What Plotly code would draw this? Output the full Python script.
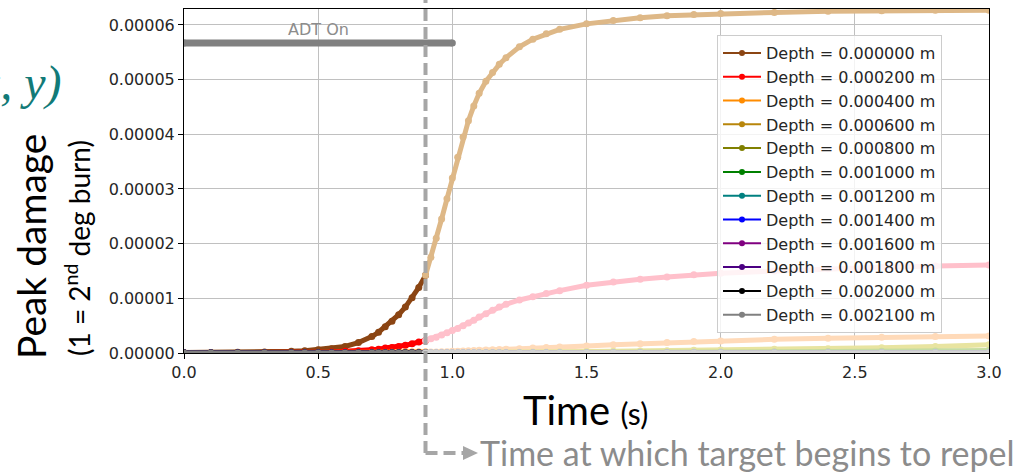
import plotly.graph_objects as go

# ---------------- data (damage values in units of 1e-5) ----------------
SCALE = 1e-5

depth_labels = [
    "Depth = 0.000000 m", "Depth = 0.000200 m", "Depth = 0.000400 m",
    "Depth = 0.000600 m", "Depth = 0.000800 m", "Depth = 0.001000 m",
    "Depth = 0.001200 m", "Depth = 0.001400 m", "Depth = 0.001600 m",
    "Depth = 0.001800 m", "Depth = 0.002000 m", "Depth = 0.002100 m",
]
colors_pre = ["#8B4513", "#FF0000", "#FF8C00", "#B8860B", "#808000", "#008000",
              "#008080", "#0000FF", "#800080", "#4B0082", "#000000", "#808080"]
colors_post = ["#DEB887", "#FFC0CB", "#FFDAB9", "#E8E4A0", "#C8DCA0", "#B8E0B8",
               "#B0E0E0", "#B0C8F0", "#DDB8DD", "#D0C0E0", "#B0B0B0", "#D3D3D3"]

# before the target begins to repel (t <= 0.9 s)
time_pre = [0.0, 0.1, 0.2, 0.3, 0.4, 0.45, 0.5, 0.55, 0.6, 0.65, 0.7, 0.725,
            0.75, 0.775, 0.8, 0.825, 0.85, 0.875, 0.9]
pre_d0000 = [0.01, 0.01, 0.015, 0.02, 0.03, 0.04, 0.06, 0.08, 0.12, 0.19, 0.30, 0.38,
             0.48, 0.58, 0.70, 0.84, 1.01, 1.20, 1.42]
pre_d0002 = [0.0, 0.0, 0.0, 0.0, 0.005, 0.007, 0.01, 0.02, 0.03, 0.04, 0.06, 0.07,
             0.09, 0.10, 0.12, 0.14, 0.17, 0.20, 0.23]
pre_d0004 = [0.0, 0.0, 0.0, 0.0, 0.0, 0.0, 0.0, 0.0, 0.005, 0.005, 0.01, 0.01,
             0.01, 0.015, 0.015, 0.02, 0.02, 0.02, 0.02]
pre_d0006 = [0.0, 0.0, 0.0, 0.0, 0.0, 0.0, 0.0, 0.0, 0.0, 0.0, 0.0, 0.0,
             0.0, 0.0, 0.005, 0.005, 0.005, 0.005, 0.005]
pre_d0008 = [0.0, 0.0, 0.0, 0.0, 0.0, 0.0, 0.0, 0.0, 0.0, 0.0, 0.0, 0.0,
             0.0, 0.0, 0.0, 0.0, 0.0, 0.0, 0.0]
pre_d0010 = [0.0, 0.0, 0.0, 0.0, 0.0, 0.0, 0.0, 0.0, 0.0, 0.0, 0.0, 0.0,
             0.0, 0.0, 0.0, 0.0, 0.0, 0.0, 0.0]
pre_d0012 = [0.0, 0.0, 0.0, 0.0, 0.0, 0.0, 0.0, 0.0, 0.0, 0.0, 0.0, 0.0,
             0.0, 0.0, 0.0, 0.0, 0.0, 0.0, 0.0]
pre_d0014 = [0.0, 0.0, 0.0, 0.0, 0.0, 0.0, 0.0, 0.0, 0.0, 0.0, 0.0, 0.0,
             0.0, 0.0, 0.0, 0.0, 0.0, 0.0, 0.0]
pre_d0016 = [0.0, 0.0, 0.0, 0.0, 0.0, 0.0, 0.0, 0.0, 0.0, 0.0, 0.0, 0.0,
             0.0, 0.0, 0.0, 0.0, 0.0, 0.0, 0.0]
pre_d0018 = [0.0, 0.0, 0.0, 0.0, 0.0, 0.0, 0.0, 0.0, 0.0, 0.0, 0.0, 0.0,
             0.0, 0.0, 0.0, 0.0, 0.0, 0.0, 0.0]
pre_d0020 = [0.0, 0.0, 0.0, 0.0, 0.0, 0.0, 0.0, 0.0, 0.0, 0.0, 0.0, 0.0,
             0.0, 0.0, 0.0, 0.0, 0.0, 0.0, 0.0]
pre_d0021 = [0.0, 0.0, 0.0, 0.0, 0.0, 0.0, 0.0, 0.0, 0.0, 0.0, 0.0, 0.0,
             0.0, 0.0, 0.0, 0.0, 0.0, 0.0, 0.0]

# after the target begins to repel (t >= 0.9 s)
time_post = [0.9, 0.92, 0.94, 0.96, 0.98, 1.0, 1.02, 1.04, 1.06, 1.08, 1.1, 1.125,
             1.15, 1.175, 1.2, 1.25, 1.3, 1.35, 1.4, 1.5, 1.6, 1.7, 1.8, 1.9,
             2.0, 2.2, 2.4, 2.6, 2.8, 3.0]
post_d0000 = [1.42, 1.75, 2.10, 2.45, 2.82, 3.20, 3.58, 3.95, 4.25, 4.52, 4.75, 4.97,
              5.13, 5.28, 5.40, 5.60, 5.74, 5.84, 5.92, 6.02, 6.08, 6.13, 6.17, 6.19,
              6.21, 6.23, 6.25, 6.26, 6.27, 6.27]
post_d0002 = [0.23, 0.26, 0.29, 0.33, 0.37, 0.41, 0.45, 0.50, 0.55, 0.60, 0.66, 0.72,
              0.78, 0.84, 0.89, 0.97, 1.03, 1.09, 1.14, 1.24, 1.30, 1.35, 1.39, 1.43,
              1.46, 1.50, 1.54, 1.57, 1.59, 1.61]
post_d0004 = [0.02, 0.02, 0.02, 0.025, 0.025, 0.03, 0.03, 0.035, 0.04, 0.045, 0.05, 0.055,
              0.06, 0.065, 0.07, 0.08, 0.09, 0.10, 0.11, 0.13, 0.15, 0.17, 0.19, 0.21,
              0.22, 0.25, 0.27, 0.29, 0.30, 0.31]
post_d0006 = [0.005, 0.005, 0.005, 0.005, 0.005, 0.005, 0.005, 0.005, 0.005, 0.005, 0.01, 0.01,
              0.01, 0.01, 0.012, 0.015, 0.018, 0.02, 0.022, 0.027, 0.032, 0.037, 0.043, 0.05,
              0.056, 0.068, 0.08, 0.095, 0.12, 0.15]
post_d0008 = [0.0, 0.0, 0.0, 0.0, 0.0, 0.0, 0.0, 0.0, 0.0, 0.0, 0.0, 0.0,
              0.0, 0.0, 0.0, 0.005, 0.005, 0.005, 0.005, 0.008, 0.01, 0.012, 0.014, 0.016,
              0.018, 0.022, 0.027, 0.032, 0.037, 0.045]
post_d0010 = [0.0, 0.0, 0.0, 0.0, 0.0, 0.0, 0.0, 0.0, 0.0, 0.0, 0.0, 0.0,
              0.0, 0.0, 0.0, 0.0, 0.0, 0.0, 0.0, 0.0, 0.0, 0.0, 0.005, 0.005,
              0.005, 0.007, 0.009, 0.011, 0.013, 0.015]
post_d0012 = [0.0, 0.0, 0.0, 0.0, 0.0, 0.0, 0.0, 0.0, 0.0, 0.0, 0.0, 0.0,
              0.0, 0.0, 0.0, 0.0, 0.0, 0.0, 0.0, 0.0, 0.0, 0.0, 0.0, 0.0,
              0.0, 0.0, 0.0, 0.0, 0.005, 0.005]
post_d0014 = [0.0, 0.0, 0.0, 0.0, 0.0, 0.0, 0.0, 0.0, 0.0, 0.0, 0.0, 0.0,
              0.0, 0.0, 0.0, 0.0, 0.0, 0.0, 0.0, 0.0, 0.0, 0.0, 0.0, 0.0,
              0.0, 0.0, 0.0, 0.0, 0.0, 0.0]
post_d0016 = [0.0, 0.0, 0.0, 0.0, 0.0, 0.0, 0.0, 0.0, 0.0, 0.0, 0.0, 0.0,
              0.0, 0.0, 0.0, 0.0, 0.0, 0.0, 0.0, 0.0, 0.0, 0.0, 0.0, 0.0,
              0.0, 0.0, 0.0, 0.0, 0.0, 0.0]
post_d0018 = [0.0, 0.0, 0.0, 0.0, 0.0, 0.0, 0.0, 0.0, 0.0, 0.0, 0.0, 0.0,
              0.0, 0.0, 0.0, 0.0, 0.0, 0.0, 0.0, 0.0, 0.0, 0.0, 0.0, 0.0,
              0.0, 0.0, 0.0, 0.0, 0.0, 0.0]
post_d0020 = [0.0, 0.0, 0.0, 0.0, 0.0, 0.0, 0.0, 0.0, 0.0, 0.0, 0.0, 0.0,
              0.0, 0.0, 0.0, 0.0, 0.0, 0.0, 0.0, 0.0, 0.0, 0.0, 0.0, 0.0,
              0.0, 0.0, 0.0, 0.0, 0.0, 0.0]
post_d0021 = [0.0, 0.0, 0.0, 0.0, 0.0, 0.0, 0.0, 0.0, 0.0, 0.0, 0.0, 0.0,
              0.0, 0.0, 0.0, 0.0, 0.0, 0.0, 0.0, 0.0, 0.0, 0.0, 0.0, 0.0,
              0.0, 0.0, 0.0, 0.0, 0.0, 0.0]

pre_series = [pre_d0000, pre_d0002, pre_d0004, pre_d0006, pre_d0008, pre_d0010,
              pre_d0012, pre_d0014, pre_d0016, pre_d0018, pre_d0020, pre_d0021]
post_series = [post_d0000, post_d0002, post_d0004, post_d0006, post_d0008, post_d0010,
               post_d0012, post_d0014, post_d0016, post_d0018, post_d0020, post_d0021]

# ADT on indicator
adt_time = [0.0, 1.0]
adt_level = [5.67, 5.67]
repel_time = 0.9

x_ticks = [0.0, 0.5, 1.0, 1.5, 2.0, 2.5, 3.0]

# ---------------- figure ----------------
W, H = 1023, 472
ML, MR, MT, MB = 184, 34, 9, 119
PW, PH = W - ML - MR, H - MT - MB


def px2paper_x(px):
    return (px - ML) / PW


def px2paper_y(py):
    return (H - MB - py) / PH


fig = go.Figure()

# ADT bar
fig.add_trace(go.Scatter(
    x=adt_time, y=[v * SCALE for v in adt_level], mode="lines+markers",
    line=dict(color="#808080", width=7), marker=dict(size=7, color="#808080"),
    showlegend=False, hoverinfo="skip"))

for i, lab in enumerate(depth_labels):
    fig.add_trace(go.Scatter(
        x=time_pre, y=[v * SCALE for v in pre_series[i]], mode="lines+markers",
        line=dict(color=colors_pre[i], width=5), marker=dict(size=7, color=colors_pre[i]),
        showlegend=False))
    fig.add_trace(go.Scatter(
        x=time_post, y=[v * SCALE for v in post_series[i]], mode="lines+markers",
        line=dict(color=colors_post[i], width=5), marker=dict(size=7, color=colors_post[i]),
        showlegend=False))

# legend entries
for i, lab in enumerate(depth_labels):
    fig.add_trace(go.Scatter(
        x=[None], y=[None], mode="lines+markers", name=lab,
        line=dict(color=colors_pre[i], width=2), marker=dict(size=6, color=colors_pre[i])))

tick_font = dict(family="DejaVu Sans", size=16, color="#262626")
slide_font = "Lato"

fig.update_layout(
    width=W, height=H, margin=dict(l=ML, r=MR, t=MT, b=MB),
    paper_bgcolor="white", plot_bgcolor="white",
    showlegend=True,
    legend=dict(x=px2paper_x(717), y=px2paper_y(35), xanchor="left", yanchor="top",
                font=dict(family="DejaVu Sans", size=16, color="#262626"),
                itemwidth=38,
                bgcolor="rgba(255,255,255,0.8)", bordercolor="#cccccc", borderwidth=1),
    xaxis=dict(range=[0, 3], tickvals=x_ticks, tickformat=".1f", showgrid=True,
               gridcolor="#c0c0c0", gridwidth=1, zeroline=False, showline=True,
               linecolor="black", linewidth=1, mirror=True, ticks="outside",
               ticklen=5, tickcolor="black", tickfont=tick_font),
    yaxis=dict(range=[0, 6.292e-5], dtick=1e-5, tick0=0, tickformat=".5f", showgrid=True,
               gridcolor="#c0c0c0", gridwidth=1, zeroline=False, showline=True,
               linecolor="black", linewidth=1, mirror=True, ticks="outside",
               ticklen=5, tickcolor="black", tickfont=tick_font),
)

# ADT On label
fig.add_annotation(x=0.5, y=5.91e-5, xref="x", yref="y", text="ADT On", showarrow=False,
                   font=dict(family="DejaVu Sans", size=16, color="#8c8c8c"))

# repel marker: dashed vertical line + horizontal dashed leader + arrow head
ylow = px2paper_y(453)
fig.add_shape(type="line", xref="x", yref="paper", x0=repel_time, x1=repel_time,
              y0=ylow, y1=px2paper_y(-2), line=dict(color="#a6a6a6", width=4, dash="12px,6px"),
              layer="above")
x_arrow_start = (463 - ML) / PW * 3
x_arrow_tip = (478 - ML) / PW * 3
fig.add_shape(type="line", xref="x", yref="paper", x0=repel_time, x1=x_arrow_start,
              y0=ylow, y1=ylow, line=dict(color="#a6a6a6", width=4, dash="12px,6px"),
              layer="above")
fig.add_shape(type="path", xref="x", yref="paper",
              path=f"M {x_arrow_start},{px2paper_y(446)} L {x_arrow_start},{px2paper_y(460)} "
                   f"L {x_arrow_tip},{ylow} Z",
              fillcolor="#a6a6a6", line=dict(color="#a6a6a6", width=0), layer="above")

fig.add_annotation(x=px2paper_x(478), y=px2paper_y(452), xref="paper", yref="paper",
                   xanchor="left", yanchor="middle", showarrow=False,
                   text="Time at which target begins to repel",
                   font=dict(family=slide_font, size=34, color="#8c8c8c"))

fig.add_annotation(x=px2paper_x(585), y=px2paper_y(410), xref="paper", yref="paper",
                   xanchor="center", yanchor="middle", showarrow=False,
                   text="Time <span style='font-size:30px'>(s)</span>",
                   font=dict(family=slide_font, size=40, color="black"))

fig.add_annotation(x=px2paper_x(31), y=px2paper_y(247), xref="paper", yref="paper",
                   xanchor="center", yanchor="middle", showarrow=False, textangle=-90,
                   text="Peak damage",
                   font=dict(family=slide_font, size=39, color="black"))

fig.add_annotation(x=px2paper_x(77), y=px2paper_y(248), xref="paper", yref="paper",
                   xanchor="center", yanchor="middle", showarrow=False, textangle=-90,
                   text="(1 = 2<sup>nd</sup> deg burn)",
                   font=dict(family=slide_font, size=28, color="black"))

fig.add_annotation(x=px2paper_x(64), y=px2paper_y(83), xref="paper", yref="paper",
                   xanchor="right", yanchor="middle", showarrow=False,
                   text="<i>(x, y)</i>",
                   font=dict(family="Liberation Serif", size=48, color="#127a77"))

fig.write_html("out.html", config={"displayModeBar": False},
               post_script="document.body.style.margin='0';document.body.style.overflow='hidden';")
